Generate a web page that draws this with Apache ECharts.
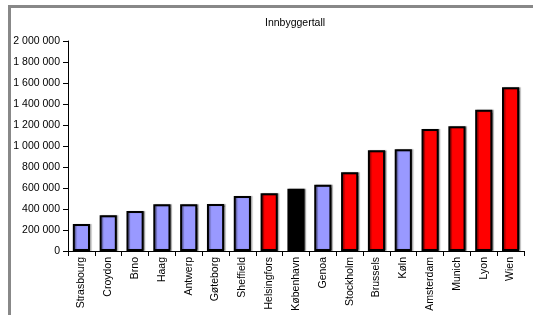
<!DOCTYPE html>
<html>
<head>
<meta charset="utf-8">
<script src="https://cdn.jsdelivr.net/npm/echarts@6/dist/echarts.min.js"></script>
<style>
html, body { margin: 0; padding: 0; background: #fff; }
#chart { width: 533px; height: 315px; }
</style>
</head>
<body>
<div id="chart"></div>
<script>
var cities = ['Strasbourg', 'Croydon', 'Brno', 'Haag', 'Antwerp', 'Gøteborg', 'Sheffield',
    'Helsingfors', 'København', 'Genoa', 'Stockholm', 'Brussels', 'Køln', 'Amsterdam',
    'Munich', 'Lyon', 'Wien'];
var population = [257000, 340000, 381000, 445000, 445000, 448000, 524000,
    550000, 593000, 631000, 750000, 959000, 969000, 1162000,
    1188000, 1346000, 1559000];
// b = blue, r = red, k = black
var groups = ['b', 'b', 'b', 'b', 'b', 'b', 'b', 'r', 'k', 'b', 'r', 'r', 'b', 'r', 'r', 'r', 'r'];
var groupColors = { b: '#9999ff', r: '#ff0000', k: '#000000' };

var dom = document.getElementById('chart');
var myChart = echarts.init(dom);

function spaced(v) {
    return String(v).replace(/\B(?=(\d{3})+(?!\d))/g, ' ');
}

var option = {
    animation: false,
    backgroundColor: '#fff',
    textStyle: { fontFamily: 'Liberation Sans, Arial, sans-serif' },
    title: {
        text: 'Innbyggertall',
        left: 260,
        top: 13,
        textStyle: { fontSize: 10.5, fontWeight: 'normal', color: '#000' }
    },
    graphic: [
        { type: 'rect', shape: { x: 8, y: 5, width: 525, height: 3 }, style: { fill: '#888' } },
        { type: 'rect', shape: { x: 8, y: 5, width: 3, height: 310 }, style: { fill: '#888' } }
    ],
    grid: { left: 68, right: 9, top: 41, bottom: 64 },
    xAxis: {
        type: 'category',
        data: cities,
        axisLine: { lineStyle: { color: '#000', width: 1 } },
        axisTick: { show: true, length: 5, lineStyle: { color: '#000' } },
        axisLabel: { rotate: 90, interval: 0, margin: 6, fontSize: 10.5, color: '#000' }
    },
    yAxis: {
        type: 'value',
        min: 0,
        max: 2000000,
        interval: 200000,
        splitLine: { show: false },
        axisLine: { show: true, lineStyle: { color: '#000', width: 1 } },
        axisTick: { show: true, length: 5, lineStyle: { color: '#000' } },
        axisLabel: { margin: 8, fontSize: 10.5, color: '#000', formatter: spaced }
    },
    series: [{
        name: 'Innbyggertall',
        type: 'bar',
        barCategoryGap: '36%',
        data: population.map(function (v, i) {
            return {
                value: v,
                itemStyle: { color: groupColors[groups[i]] }
            };
        }),
        itemStyle: {
            borderColor: '#000',
            borderWidth: 2,
            shadowColor: 'rgba(0,0,0,0.35)',
            shadowOffsetX: 1.5,
            shadowOffsetY: 0,
            shadowBlur: 1
        }
    }]
};
myChart.setOption(option, true);
</script>
</body>
</html>
